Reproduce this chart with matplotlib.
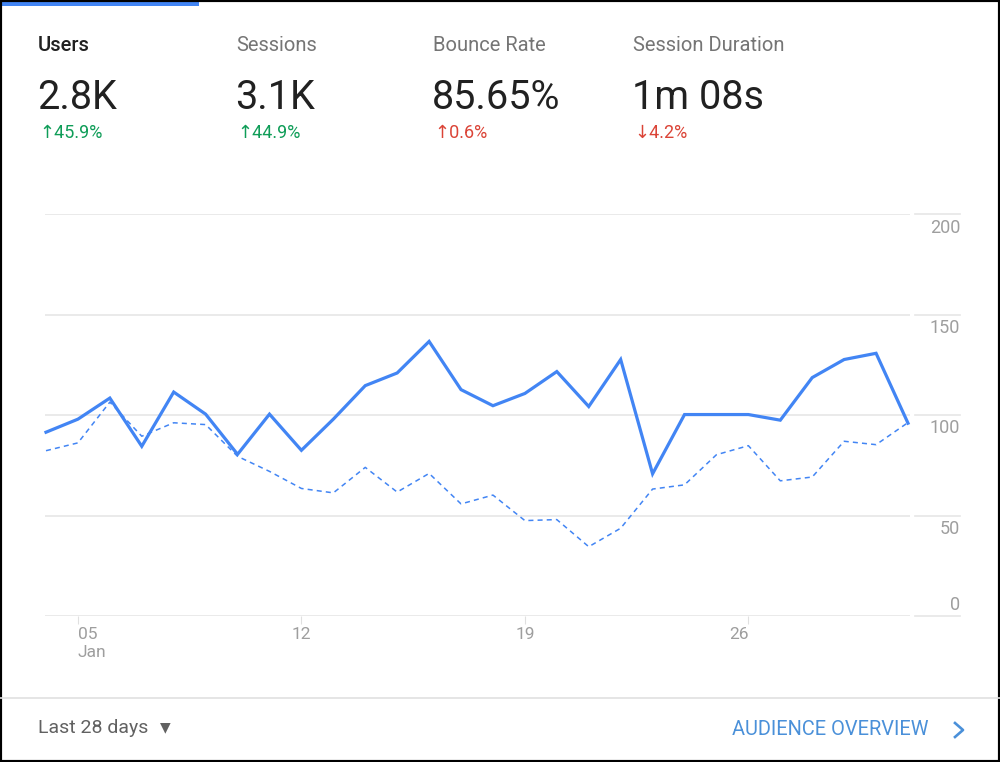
import matplotlib
matplotlib.use("Agg")
import matplotlib.pyplot as plt
from matplotlib.patches import Rectangle
from matplotlib.lines import Line2D
import matplotlib.transforms as mtransforms

plt.rcParams['font.family'] = ['Roboto', 'DejaVu Sans']

# Data (Jan 4 - Jan 31)
days = list(range(4, 32))
users_current = [91.5, 98, 108.5, 84.5, 111.5, 100.5, 80.5, 100.5, 82.5, 98,
                 114.7, 121, 136.7, 112.7, 104.7, 110.8, 121.7, 104.3, 127.7, 70.8,
                 100.3, 100.3, 100.3, 97.5, 118.7, 127.7, 130.8, 96]
users_previous = [82.3, 86.2, 106.5, 89.5, 96.2, 95.3, 79.5, 72, 63.5, 61.3,
                  74, 61.7, 71, 55.8, 60.2, 47.5, 48, 34.5, 43.7, 63.2,
                  65.3, 80.3, 84.8, 67.3, 69.2, 87, 85.3, 96.3]

y_ticks = [0, 50, 100, 150, 200]
x_ticks = [5, 12, 19, 26]
x_tick_labels = ["05\nJan", "12", "19", "26"]

metric_names = ["Users", "Sessions", "Bounce Rate", "Session Duration"]
metric_values = ["2.8K", "3.1K", "85.65%", "1m 08s"]
metric_changes = ["\u219145.9%", "\u219144.9%", "\u21910.6%", "\u21934.2%"]
change_good = [True, True, False, False]

BLUE = "#4285f4"
W, H = 1000, 762


def fx(px):
    return px / W


def fy(py):
    return 1 - py / H


fig = plt.figure(figsize=(10, 7.62), dpi=100)

# Header metrics
metric_x = [38, 236, 433, 633]
for i, name in enumerate(metric_names):
    x0 = metric_x[i]
    if i == 0:
        fig.text(fx(x0), fy(45.5), name, fontsize=14.5, color="#212121",
                 fontweight="medium", va="center", ha="left")
    else:
        fig.text(fx(x0), fy(45.5), name, fontsize=14.5, color="#757575",
                 va="center", ha="left")
    fig.text(fx(x0 - 1), fy(97.5), metric_values[i], fontsize=28.5, color="#212121",
             fontweight="normal", va="center", ha="left")
    col = "#0f9d58" if change_good[i] else "#db4437"
    fig.text(fx(x0 + 1), fy(132.5), metric_changes[i], fontsize=13, color=col,
             va="center", ha="left")

# Chart
ax = fig.add_axes([fx(45), fy(616), fx(910) - fx(45), fy(214.3) - fy(616)])
ax.set_xlim(4 - 1 / 31.93, 31 + 2 / 31.93)
ax.set_ylim(0, 200)
for s in ax.spines.values():
    s.set_visible(False)

trans = mtransforms.blended_transform_factory(ax.transAxes, ax.transData)
gx0 = (915 - 45) / 865
gx1 = (960 - 45) / 865
for v in y_ticks:
    ax.axhline(v, color="#e6e6e6", lw=1.2, zorder=0)
    ax.plot([gx0, gx1], [v, v], color="#e6e6e6", lw=1.2, transform=trans,
            clip_on=False, zorder=0)
    off = 7.6 if v == 0 else -9.6
    ax.annotate(str(v), xy=(gx1, v), xycoords=trans, xytext=(0, off),
                textcoords="offset points", ha="right", va="center",
                fontsize=13, color="#9e9e9e")

ax.plot(days, users_previous, color=BLUE, lw=1.1, dashes=(3.3, 2.7),
        clip_on=False, zorder=2)
ax.plot(days, users_current, color=BLUE, lw=2.3, clip_on=False, zorder=3,
        solid_joinstyle="miter")

ax.set_yticks([])
ax.set_xticks(x_ticks)
ax.set_xticklabels(x_tick_labels, fontsize=12.5, color="#9e9e9e",
                   linespacing=1.2)
ax.tick_params(axis="x", length=5.5, width=0.8, color="#e0e0e0", pad=2.5)
labels = ax.get_xticklabels()
labels[0].set_ha("left")
labels[0].set_multialignment("left")
labels[-1].set_ha("right")

# Footer
fig.add_artist(Line2D([0, 1], [fy(698), fy(698)], color="#e0e0e0", lw=1.2))
fig.text(fx(38), fy(728), "Last 28 days", fontsize=14, color="#616161",
         va="center", ha="left")
fig.text(fx(165), fy(727), "\u25bc", fontsize=10, color="#616161",
         family="DejaVu Sans", va="center", ha="center")
fig.text(fx(928), fy(729.5), "AUDIENCE OVERVIEW", fontsize=14.4, color="#4a90d9",
         va="center", ha="right")
fig.add_artist(Line2D([fx(955), fx(963), fx(955)], [fy(723), fy(730), fy(737)],
                      color="#4a90d9", lw=1.9))

# Top tab bar and outer border
fig.add_artist(Rectangle((0, fy(6)), fx(199), 6 / H, color=BLUE, lw=0))
fig.add_artist(Rectangle((0, 0), 1, 1, fill=False, edgecolor="black", lw=3))

fig.savefig("out.png", dpi=100)
